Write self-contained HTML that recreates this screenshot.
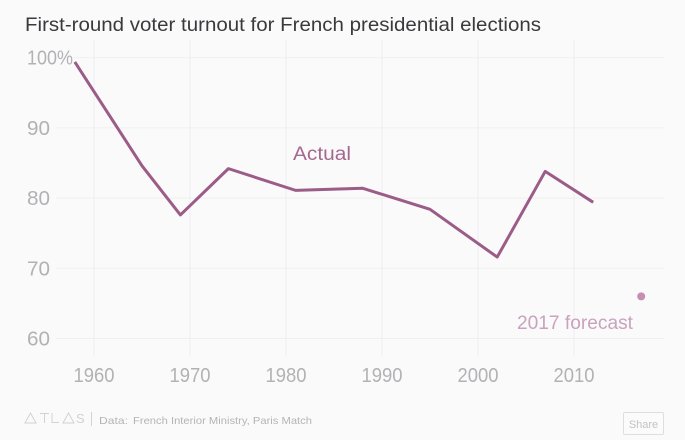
<!DOCTYPE html>
<html>
<head>
<meta charset="utf-8">
<style>
html,body{margin:0;padding:0;background:#fafafb;width:685px;height:440px;overflow:hidden}
svg{display:block;font-family:"Liberation Sans",sans-serif}
</style>
</head>
<body>
<svg id="chart" width="685" height="440" viewBox="0 0 685 440" xmlns="http://www.w3.org/2000/svg">
<rect width="685" height="440" fill="#fafafb"/>
<text x="25" y="31" font-size="19.5" fill="#3a3a3c" textLength="516" lengthAdjust="spacingAndGlyphs">First-round voter turnout for French presidential elections</text>
<g id="grid"></g>
<g id="axes"></g>
<path id="line" fill="none" stroke="#9c5c88" stroke-width="3" stroke-linejoin="round"/>
<circle id="forecast" r="4" fill="#c68fb2"/>
<text x="293" y="160" font-size="19" fill="#a5688f" textLength="58" lengthAdjust="spacingAndGlyphs">Actual</text>
<text x="517" y="329" font-size="19" fill="#c9a3bd" textLength="116" lengthAdjust="spacingAndGlyphs">2017 forecast</text>
<g fill="none" stroke="#d2d2d4" stroke-width="1">
<path d="M25 423 L30.500 413 L36 423 Z"/>
<path d="M40 413.500 H49 M44.500 413.500 V423"/>
<path d="M52 413 V422.500 H59"/>
<path d="M63 423 L68.500 413 L74 423 Z"/>
<text x="76" y="423" font-size="13" fill="#d2d2d4" stroke="none">S</text>
<path d="M91.500 412 V426"/>
</g>
<text x="99" y="424" font-size="10.500" fill="#b4b4b6" textLength="29" lengthAdjust="spacingAndGlyphs">Data:</text>
<text x="133" y="424" font-size="10.500" fill="#b4b4b6" textLength="179" lengthAdjust="spacingAndGlyphs">French Interior Ministry, Paris Match</text>
<g>
<rect x="623.500" y="412.500" width="40" height="22" rx="1.500" fill="#fbfbfb" stroke="#dededf"/>
<text x="643.500" y="428" font-size="11" text-anchor="middle" fill="#c2c2c4">Share</text>
</g>
</svg>
<script>
const years = [1958, 1965, 1969, 1974, 1981, 1988, 1995, 2002, 2007, 2012];
const turnout = [99.4, 84.6, 77.6, 84.2, 81.1, 81.4, 78.4, 71.6, 83.8, 79.4];
const forecastYear = 2017;
const forecastValue = 66;
const xTicks = [1960, 1970, 1980, 1990, 2000, 2010];
const yTicks = [100, 90, 80, 70, 60];
const yTickLabels = ['100%', '90', '80', '70', '60'];

const NS = 'http://www.w3.org/2000/svg';
function xScale(year) { return 94 + (year - 1960) * 9.6; }
function yScale(value) { return 338.5 - (value - 60) * 7.02; }

const grid = document.getElementById('grid');
const axes = document.getElementById('axes');

yTicks.forEach(function (tick, i) {
  const y = yScale(tick);
  const line = document.createElementNS(NS, 'line');
  
  
  line.setAttribute('x1', 56);
  line.setAttribute('x2', 664);
  line.setAttribute('y1', y);
  line.setAttribute('y2', y);
  line.setAttribute('stroke', '#efeff0');
  grid.appendChild(line);

  const label = document.createElementNS(NS, 'text');
  
  
  label.setAttribute('x', 27);
  label.setAttribute('y', y + 7);
  label.setAttribute('font-size', '20');
  label.setAttribute('fill', '#b2b2b4');
  label.setAttribute('stroke', '#fafafb');
  label.setAttribute('stroke-width', '2');
  label.setAttribute('paint-order', 'stroke');
  label.setAttribute('textLength', String(yTickLabels[i]).length * 11.5);
  label.setAttribute('lengthAdjust', 'spacingAndGlyphs');
  label.textContent = yTickLabels[i];
  axes.appendChild(label);
});

xTicks.forEach(function (tick) {
  const x = xScale(tick);
  const line = document.createElementNS(NS, 'line');
  
  
  line.setAttribute('x1', x);
  line.setAttribute('x2', x);
  line.setAttribute('y1', 40);
  line.setAttribute('y2', 356);
  line.setAttribute('stroke', '#efeff0');
  grid.appendChild(line);

  const label = document.createElementNS(NS, 'text');
  
  
  label.setAttribute('x', x);
  label.setAttribute('y', 382);
  label.setAttribute('font-size', '20');
  label.setAttribute('text-anchor', 'middle');
  label.setAttribute('fill', '#b2b2b4');
  label.setAttribute('textLength', '41');
  label.setAttribute('lengthAdjust', 'spacingAndGlyphs');
  label.textContent = tick;
  axes.appendChild(label);
});

document.getElementById('line').setAttribute('d', years.map(function (year, i) {
  return (i ? 'L' : 'M') + xScale(year) + ' ' + yScale(turnout[i]);
}).join(' '));

const forecast = document.getElementById('forecast');
forecast.setAttribute('cx', xScale(forecastYear));
forecast.setAttribute('cy', yScale(forecastValue));
</script>
</body>
</html>
